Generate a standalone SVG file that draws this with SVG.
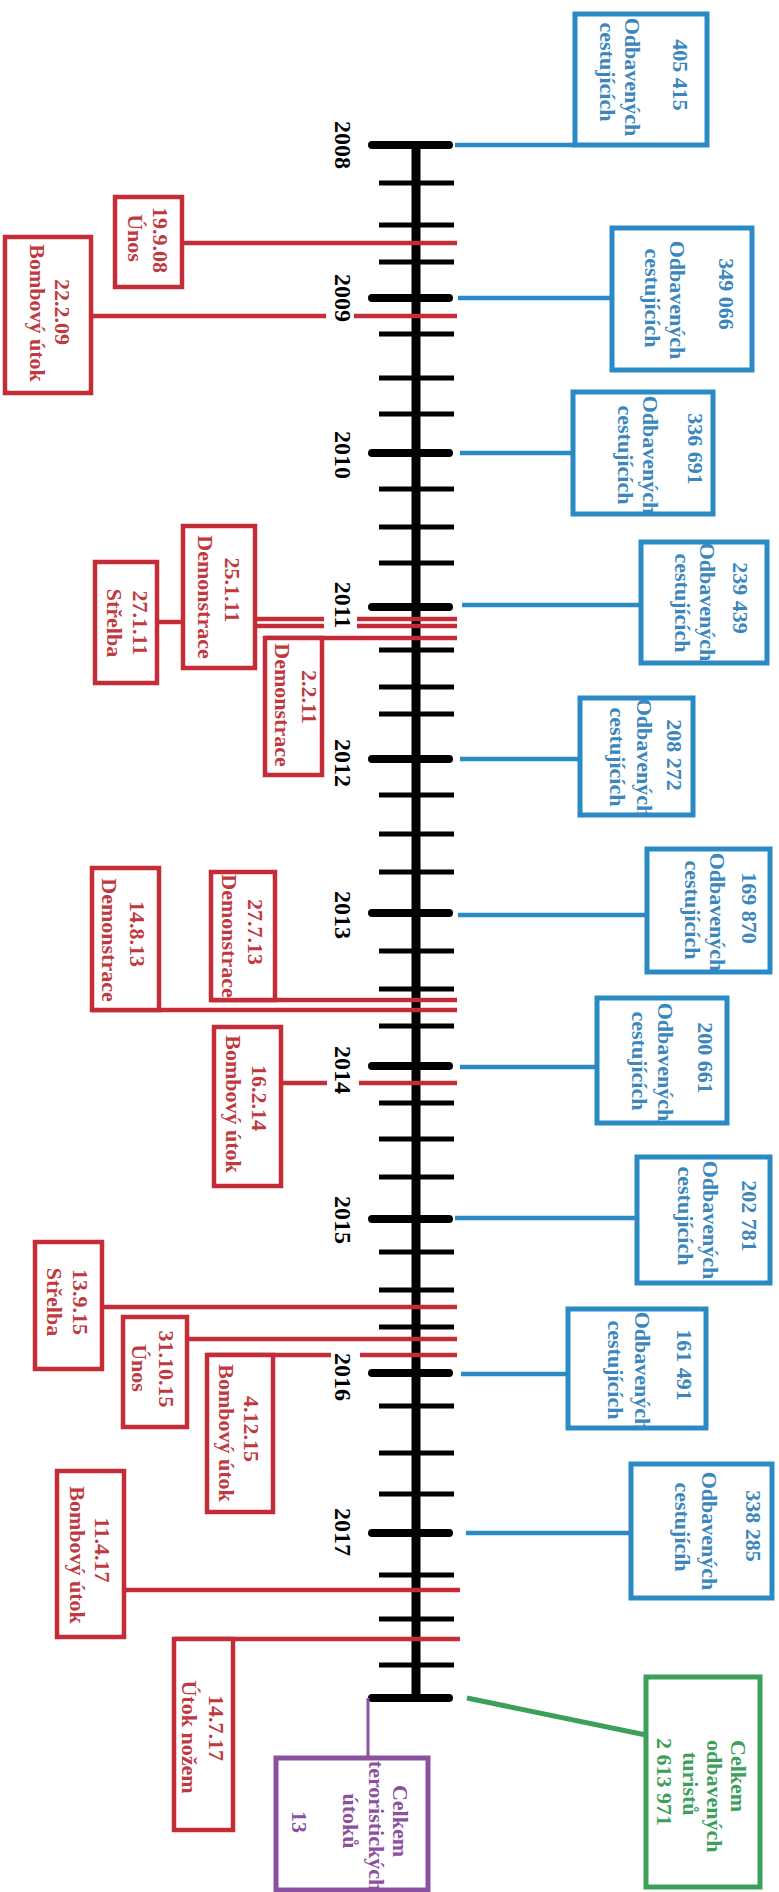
<svg xmlns="http://www.w3.org/2000/svg" width="779" height="1892" viewBox="0 0 779 1892">
<style>
.bg{fill:#fff}
.axis{stroke:#000;stroke-width:9}
.major{stroke:#000;stroke-width:8;stroke-linecap:round}
.minor{stroke:#000;stroke-width:5}
.rl{stroke:#c42d37;stroke-width:4.5;fill:none}
.bl{stroke:#2a8ac6;stroke-width:4.5;fill:none}
.gl{stroke:#3ca05a;stroke-width:5;fill:none}
.pl{stroke:#8c50a0;stroke-width:3;fill:none}
.rbox{fill:#fff;stroke:#c42d37;stroke-width:4.5}
.bbox{fill:#fff;stroke:#2a8ac6;stroke-width:5}
.gbox{fill:#fff;stroke:#3ca05a;stroke-width:5}
.pbox{fill:#fff;stroke:#8c50a0;stroke-width:5}
text{font-family:"Liberation Serif","Times New Roman",serif;font-weight:bold;font-size:22px;text-anchor:middle}
.tr{fill:#c0393f}
.tb{fill:#3a86bd}
.tg{fill:#3ca05a;text-anchor:start}
.tp{fill:#8c50a0}
.yr{fill:#000;font-size:24px}
</style>
<rect class="bg" x="0" y="0" width="779" height="1892"/>

<g id="timeline">
<line class="axis" x1="416" y1="145" x2="416" y2="1698"/>
<g id="minor-ticks">
<line class="minor" x1="379" y1="183" x2="454" y2="183"/>
<line class="minor" x1="379" y1="225" x2="454" y2="225"/>
<line class="minor" x1="379" y1="262" x2="454" y2="262"/>
<line class="minor" x1="379" y1="334" x2="454" y2="334"/>
<line class="minor" x1="379" y1="378" x2="454" y2="378"/>
<line class="minor" x1="379" y1="414" x2="454" y2="414"/>
<line class="minor" x1="379" y1="489" x2="454" y2="489"/>
<line class="minor" x1="379" y1="527" x2="454" y2="527"/>
<line class="minor" x1="379" y1="563" x2="454" y2="563"/>
<line class="minor" x1="379" y1="650" x2="454" y2="650"/>
<line class="minor" x1="379" y1="687" x2="454" y2="687"/>
<line class="minor" x1="379" y1="714" x2="454" y2="714"/>
<line class="minor" x1="379" y1="795" x2="454" y2="795"/>
<line class="minor" x1="379" y1="834" x2="454" y2="834"/>
<line class="minor" x1="379" y1="872" x2="454" y2="872"/>
<line class="minor" x1="379" y1="951" x2="454" y2="951"/>
<line class="minor" x1="379" y1="989" x2="454" y2="989"/>
<line class="minor" x1="379" y1="1026" x2="454" y2="1026"/>
<line class="minor" x1="379" y1="1103" x2="454" y2="1103"/>
<line class="minor" x1="379" y1="1139" x2="454" y2="1139"/>
<line class="minor" x1="379" y1="1177" x2="454" y2="1177"/>
<line class="minor" x1="379" y1="1252" x2="454" y2="1252"/>
<line class="minor" x1="379" y1="1290" x2="454" y2="1290"/>
<line class="minor" x1="379" y1="1327" x2="454" y2="1327"/>
<line class="minor" x1="379" y1="1406" x2="454" y2="1406"/>
<line class="minor" x1="379" y1="1453" x2="454" y2="1453"/>
<line class="minor" x1="379" y1="1494" x2="454" y2="1494"/>
<line class="minor" x1="379" y1="1575" x2="454" y2="1575"/>
<line class="minor" x1="379" y1="1619" x2="454" y2="1619"/>
<line class="minor" x1="379" y1="1665" x2="454" y2="1665"/>
</g>
<g id="major-ticks">
<line class="major" x1="372" y1="145" x2="449" y2="145"/>
<line class="major" x1="372" y1="298" x2="449" y2="298"/>
<line class="major" x1="372" y1="453" x2="449" y2="453"/>
<line class="major" x1="372" y1="607" x2="449" y2="607"/>
<line class="major" x1="372" y1="759" x2="449" y2="759"/>
<line class="major" x1="372" y1="913" x2="449" y2="913"/>
<line class="major" x1="372" y1="1066" x2="449" y2="1066"/>
<line class="major" x1="372" y1="1219" x2="449" y2="1219"/>
<line class="major" x1="372" y1="1373" x2="449" y2="1373"/>
<line class="major" x1="372" y1="1533" x2="449" y2="1533"/>
<line class="major" x1="372" y1="1698" x2="449" y2="1698"/>
</g>
<g id="years">
<text class="yr" transform="translate(335,145) rotate(90)">2008</text>
<text class="yr" transform="translate(335,298) rotate(90)">2009</text>
<text class="yr" transform="translate(335,455) rotate(90)">2010</text>
<text class="yr" transform="translate(335,605) rotate(90)">2011</text>
<text class="yr" transform="translate(335,763) rotate(90)">2012</text>
<text class="yr" transform="translate(335,915) rotate(90)">2013</text>
<text class="yr" transform="translate(335,1070) rotate(90)">2014</text>
<text class="yr" transform="translate(335,1220) rotate(90)">2015</text>
<text class="yr" transform="translate(335,1377) rotate(90)">2016</text>
<text class="yr" transform="translate(335,1532) rotate(90)">2017</text>
</g>
</g>

<g id="connectors">
<line class="rl" x1="182" y1="243" x2="457" y2="243"/>
<line class="rl" x1="91" y1="316" x2="326" y2="316"/>
<line class="rl" x1="354" y1="316" x2="457" y2="316"/>
<line class="rl" x1="255" y1="619" x2="324" y2="619"/>
<line class="rl" x1="357" y1="619" x2="457" y2="619"/>
<line class="rl" x1="255" y1="626" x2="324" y2="626"/>
<line class="rl" x1="357" y1="626" x2="457" y2="626"/>
<line class="rl" x1="157" y1="622" x2="183" y2="622"/>
<line class="rl" x1="265" y1="638" x2="457" y2="638"/>
<line class="rl" x1="211" y1="1000" x2="457" y2="1000"/>
<line class="rl" x1="92" y1="1010" x2="457" y2="1010"/>
<line class="rl" x1="281" y1="1083" x2="327" y2="1083"/>
<line class="rl" x1="359" y1="1083" x2="457" y2="1083"/>
<line class="rl" x1="102" y1="1307" x2="457" y2="1307"/>
<line class="rl" x1="187" y1="1339" x2="457" y2="1339"/>
<line class="rl" x1="207" y1="1355" x2="331" y2="1355"/>
<line class="rl" x1="360" y1="1355" x2="457" y2="1355"/>
<line class="rl" x1="124" y1="1590" x2="460" y2="1590"/>
<line class="rl" x1="174" y1="1639" x2="460" y2="1639"/>
<line class="bl" x1="455" y1="145" x2="575" y2="145"/>
<line class="bl" x1="458" y1="298" x2="612" y2="298"/>
<line class="bl" x1="460" y1="453" x2="573" y2="453"/>
<line class="bl" x1="462" y1="605" x2="641" y2="605"/>
<line class="bl" x1="460" y1="759" x2="580" y2="759"/>
<line class="bl" x1="458" y1="915" x2="647" y2="915"/>
<line class="bl" x1="460" y1="1067" x2="597" y2="1067"/>
<line class="bl" x1="455" y1="1218" x2="637" y2="1218"/>
<line class="bl" x1="461" y1="1374" x2="568" y2="1374"/>
<line class="bl" x1="466" y1="1533" x2="631" y2="1533"/>
<line class="gl" x1="467" y1="1698" x2="646" y2="1735"/>
<line class="pl" x1="368" y1="1698" x2="368" y2="1758"/>
</g>

<g id="e1"><rect class="rbox" x="115" y="197" width="67" height="90"/>
<text class="tr" transform="translate(153,240) rotate(90)">19.9.08</text>
<text class="tr" transform="translate(128,238) rotate(90)">Únos</text></g>
<g id="e2"><rect class="rbox" x="5" y="237" width="86" height="156"/>
<text class="tr" transform="translate(55,312) rotate(90)">22.2.09</text>
<text class="tr" transform="translate(30,313) rotate(90)">Bombový útok</text></g>
<g id="e3"><rect class="rbox" x="183" y="526" width="72" height="142"/>
<text class="tr" transform="translate(225,590) rotate(90)">25.1.11</text>
<text class="tr" transform="translate(198,597) rotate(90)">Demonstrace</text></g>
<g id="e4"><rect class="rbox" x="95" y="562" width="62" height="121"/>
<text class="tr" transform="translate(133,623) rotate(90)">27.1.11</text>
<text class="tr" transform="translate(107,623) rotate(90)">Střelba</text></g>
<g id="e5"><rect class="rbox" x="265" y="638" width="57" height="137"/>
<text class="tr" transform="translate(302,697) rotate(90)">2.2.11</text>
<text class="tr" transform="translate(275,705) rotate(90)">Demonstrace</text></g>
<g id="e6"><rect class="rbox" x="211" y="872" width="64" height="128"/>
<text class="tr" transform="translate(248,932) rotate(90)">27.7.13</text>
<text class="tr" transform="translate(222,936) rotate(90)">Demonstrace</text></g>
<g id="e7"><rect class="rbox" x="92" y="868" width="67" height="142"/>
<text class="tr" transform="translate(130,934) rotate(90)">14.8.13</text>
<text class="tr" transform="translate(102,940) rotate(90)">Demonstrace</text></g>
<g id="e8"><rect class="rbox" x="214" y="1027" width="67" height="159"/>
<text class="tr" transform="translate(252,1098) rotate(90)">16.2.14</text>
<text class="tr" transform="translate(226,1104) rotate(90)">Bombový útok</text></g>
<g id="e9"><rect class="rbox" x="35" y="1242" width="67" height="127"/>
<text class="tr" transform="translate(73,1302) rotate(90)">13.9.15</text>
<text class="tr" transform="translate(47,1302) rotate(90)">Střelba</text></g>
<g id="e10"><rect class="rbox" x="123" y="1317" width="64" height="110"/>
<text class="tr" transform="translate(159,1369) rotate(90)">31.10.15</text>
<text class="tr" transform="translate(132,1368) rotate(90)">Únos</text></g>
<g id="e11"><rect class="rbox" x="207" y="1355" width="66" height="157"/>
<text class="tr" transform="translate(244,1429) rotate(90)">4.12.15</text>
<text class="tr" transform="translate(219,1433) rotate(90)">Bombový útok</text></g>
<g id="e12"><rect class="rbox" x="57" y="1471" width="67" height="166"/>
<text class="tr" transform="translate(95,1550) rotate(90)">11.4.17</text>
<text class="tr" transform="translate(70,1555) rotate(90)">Bombový útok</text></g>
<g id="e13"><rect class="rbox" x="174" y="1639" width="59" height="191"/>
<text class="tr" transform="translate(209,1728) rotate(90)">14.7.17</text>
<text class="tr" transform="translate(182,1737) rotate(90)">Útok nožem</text></g>

<g id="b1"><rect class="bbox" x="575" y="14" width="132" height="131"/>
<text class="tb" transform="translate(673,75) rotate(90)">405 415</text>
<text class="tb" transform="translate(625,77) rotate(90)">Odbavených</text>
<text class="tb" transform="translate(600,72) rotate(90)">cestujících</text></g>
<g id="b2"><rect class="bbox" x="612" y="228" width="140" height="142"/>
<text class="tb" transform="translate(719,294) rotate(90)">349 066</text>
<text class="tb" transform="translate(670,300) rotate(90)">Odbavených</text>
<text class="tb" transform="translate(645,298) rotate(90)">cestujících</text></g>
<g id="b3"><rect class="bbox" x="573" y="392" width="140" height="122"/>
<text class="tb" transform="translate(688,449) rotate(90)">336 691</text>
<text class="tb" transform="translate(643,455) rotate(90)">Odbavených</text>
<text class="tb" transform="translate(618,455) rotate(90)">cestujících</text></g>
<g id="b4"><rect class="bbox" x="641" y="542" width="126" height="121"/>
<text class="tb" transform="translate(733,598) rotate(90)">239 439</text>
<text class="tb" transform="translate(700,602) rotate(90)">Odbavených</text>
<text class="tb" transform="translate(675,603) rotate(90)">cestujících</text></g>
<g id="b5"><rect class="bbox" x="580" y="698" width="113" height="117"/>
<text class="tb" transform="translate(667,755) rotate(90)">208 272</text>
<text class="tb" transform="translate(637,758) rotate(90)">Odbavených</text>
<text class="tb" transform="translate(610,757) rotate(90)">cestujících</text></g>
<g id="b6"><rect class="bbox" x="647" y="849" width="123" height="123"/>
<text class="tb" transform="translate(742,908) rotate(90)">169 870</text>
<text class="tb" transform="translate(710,912) rotate(90)">Odbavených</text>
<text class="tb" transform="translate(685,910) rotate(90)">cestujících</text></g>
<g id="b7"><rect class="bbox" x="597" y="998" width="130" height="125"/>
<text class="tb" transform="translate(698,1058) rotate(90)">200 661</text>
<text class="tb" transform="translate(658,1062) rotate(90)">Odbavených</text>
<text class="tb" transform="translate(632,1061) rotate(90)">cestujících</text></g>
<g id="b8"><rect class="bbox" x="637" y="1157" width="133" height="126"/>
<text class="tb" transform="translate(742,1216) rotate(90)">202 781</text>
<text class="tb" transform="translate(703,1220) rotate(90)">Odbavených</text>
<text class="tb" transform="translate(678,1216) rotate(90)">cestujících</text></g>
<g id="b9"><rect class="bbox" x="568" y="1309" width="138" height="119"/>
<text class="tb" transform="translate(677,1365) rotate(90)">161 491</text>
<text class="tb" transform="translate(635,1371) rotate(90)">Odbavených</text>
<text class="tb" transform="translate(608,1370) rotate(90)">cestujících</text></g>
<g id="b10"><rect class="bbox" x="631" y="1464" width="141" height="134"/>
<text class="tb" transform="translate(746,1526) rotate(90)">338 285</text>
<text class="tb" transform="translate(702,1531) rotate(90)">Odbavených</text>
<text class="tb" transform="translate(675,1527) rotate(90)">cestujícíh</text></g>

<g id="total-tourists"><rect class="gbox" x="646" y="1677" width="114" height="210"/>
<text class="tg" transform="translate(731,1740) rotate(90)">Celkem</text>
<text class="tg" transform="translate(707,1740) rotate(90)">odbavených</text>
<text class="tg" transform="translate(683,1752) rotate(90)">turistů</text>
<text class="tg" transform="translate(657,1738) rotate(90)">2 613 971</text></g>

<g id="total-attacks"><rect class="pbox" x="276" y="1758" width="152" height="132"/>
<text class="tp" transform="translate(393,1821) rotate(90)">Celkem</text>
<text class="tp" transform="translate(369,1826) rotate(90)">teroristických</text>
<text class="tp" transform="translate(343,1821) rotate(90)">útoků</text>
<text class="tp" transform="translate(292,1822) rotate(90)">13</text></g>
</svg>
